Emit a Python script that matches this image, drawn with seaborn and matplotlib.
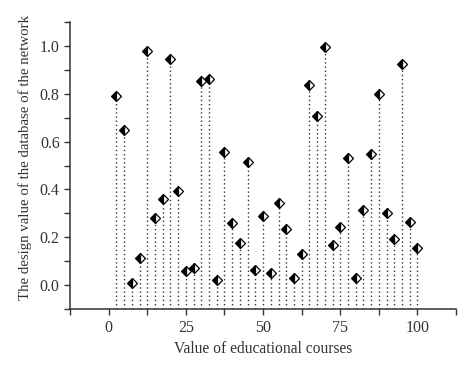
import seaborn as sns
import numpy as np
import pandas as pd
import matplotlib.pyplot as plt
from matplotlib.ticker import MultipleLocator

courses = [2.5, 5, 7.5, 10, 12.5, 15, 17.5, 20, 22.5, 25,
           27.5, 30, 32.5, 35, 37.5, 40, 42.5, 45, 47.5, 50,
           52.5, 55, 57.5, 60, 62.5, 65, 67.5, 70, 72.5, 75,
           77.5, 80, 82.5, 85, 87.5, 90, 92.5, 95, 97.5, 100]
design = [0.79, 0.65, 0.01, 0.115, 0.98, 0.28, 0.36, 0.945, 0.395, 0.06,
          0.07, 0.855, 0.86, 0.02, 0.555, 0.26, 0.175, 0.515, 0.065, 0.29,
          0.05, 0.345, 0.235, 0.03, 0.13, 0.835, 0.705, 0.995, 0.17, 0.245,
          0.53, 0.03, 0.315, 0.55, 0.80, 0.30, 0.195, 0.925, 0.265, 0.155]

df = pd.DataFrame({'course': courses, 'design': design})

sns.set_style("ticks")
plt.rcParams['font.family'] = ['Liberation Serif', 'DejaVu Serif']

fig = plt.figure(figsize=(4.74, 3.72), dpi=100)
ax = fig.add_axes([0.148, 0.169, 0.814, 0.772])

ax.vlines(df['course'], -0.1, df['design'], colors='#333333',
          linestyles=(0, (1, 2)), linewidth=1.0)
sns.lineplot(data=df, x='course', y='design', ax=ax, linestyle='',
             marker='D', markersize=5.5, fillstyle='left', color='black',
             markerfacecoloralt='white', markeredgecolor='black',
             markeredgewidth=0.9)

ax.set_xlim(-12.5, 112.5)
ax.set_ylim(-0.1, 1.1)
ax.xaxis.set_major_locator(MultipleLocator(25))
ax.xaxis.set_minor_locator(MultipleLocator(12.5))
ax.yaxis.set_major_locator(MultipleLocator(0.2))
ax.yaxis.set_minor_locator(MultipleLocator(0.1))
ax.tick_params(which='both', direction='out', length=4, width=1, colors='#333333',
               labelsize=11.5, labelcolor='#333333')
for side in ['top', 'right']:
    ax.spines[side].set_visible(False)
for side in ['left', 'bottom']:
    ax.spines[side].set_color('#333333')
    ax.spines[side].set_linewidth(1.1)

ax.set_xlabel('Value of educational courses', fontsize=11.2, color='#333333')
ax.set_ylabel('The design value of the database of the network', fontsize=10.7,
              color='#333333')
ax.yaxis.set_label_coords(-0.098, 0.528)

fig.savefig('out.png', dpi=100)
